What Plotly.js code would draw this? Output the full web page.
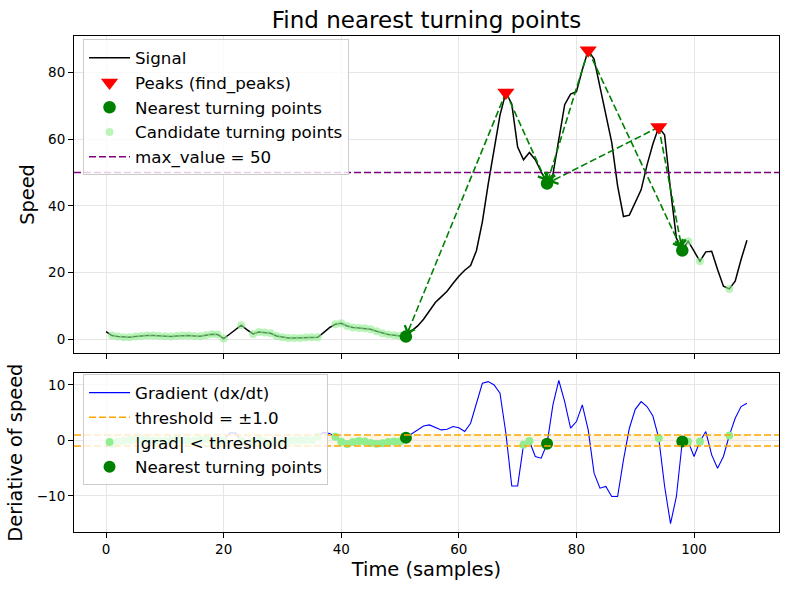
<!DOCTYPE html>
<html><head><meta charset="utf-8">
<script src="https://cdn.plot.ly/plotly-3.0.1.min.js"></script>
<style>html,body{margin:0;padding:0;background:#fff}</style>
</head><body><div id="chart" style="width:790px;height:590px"></div>
<script>
// ---- data ----
const signal = [
  2.3, 1.1, 0.8, 0.6, 0.6, 0.8, 1.0, 1.1, 1.1, 1.0,
  0.9, 0.8, 1.0, 1.1, 1.1, 1.0, 0.9, 1.2, 1.5, 1.4,
  0.2, 1.5, 2.9, 4.2, 2.8, 1.6, 2.2, 2.0, 1.8, 1.0,
  0.6, 0.4, 0.4, 0.4, 0.5, 0.6, 0.6, 2.0, 3.5, 4.5,
  4.8, 4.0, 3.5, 3.4, 3.3, 3.0, 2.4, 1.8, 1.4, 1.2,
  1.0, 0.8, 2.5, 4.0, 6.0, 8.5, 11.0, 12.7, 14.4, 16.7,
  18.9, 20.7, 22.1, 26.6, 35.2, 46.6, 56.6, 67.2, 74.0, 70.5,
  57.6, 53.8, 56.0, 53.8, 50.2, 46.7, 49.4, 59.6, 70.3, 73.5,
  74.2, 80.8, 86.6, 84.0, 75.5, 67.5, 59.0, 46.0, 36.8, 37.2,
  40.8, 44.8, 52.2, 58.5, 63.6, 61.2, 44.8, 30.3, 26.6, 29.4,
  26.4, 23.4, 26.2, 26.4, 20.9, 15.9, 15.1, 17.4, 23.9, 29.7
];
const gradient = [
  -1.2, -0.75, -0.25, -0.1, 0.1, 0.2, 0.15, 0.05, -0.05, -0.1,
  -0.1, 0.05, 0.15, 0.05, -0.05, -0.1, 0.1, 0.3, 0.1, -0.65,
  0.05, 1.35, 1.35, -0.05, -1.3, -0.3, 0.2, -0.2, -0.5, -0.6,
  -0.3, -0.1, 0.0, 0.05, 0.1, 0.05, 0.7, 1.45, 1.25, 0.65,
  -0.25, -0.65, -0.3, -0.1, -0.2, -0.45, -0.6, -0.5, -0.3, -0.2,
  -0.2, 0.5, 1.3, 2.0, 2.6, 2.8, 2.4, 1.9, 2.0, 2.5,
  2.3, 1.6, 3.1, 6.7, 10.3, 10.6, 10.0, 8.5, 1.3, -8.2,
  -8.2, -0.8, -0.1, -2.9, -3.2, -0.6, 6.4, 10.8, 7.0, 2.2,
  3.4, 6.4, 1.9, -5.9, -8.6, -8.3, -10.1, -10.1, -3.5, 2.2,
  5.6, 7.0, 6.1, 4.4, 0.4, -8.3, -15.0, -10.1, -0.2, -0.2,
  -2.9, -0.2, 1.6, -2.6, -5.0, -2.9, 0.9, 4.0, 6.1, 6.7
];
const peakIdx = [68, 82, 94];
const turnIdx = [51, 75, 98];
const threshold = 1.0;
const maxValue = 50;
const xTickVals = [0, 20, 40, 60, 80, 100];
const yTopTickVals = [0, 20, 40, 60, 80];
const yBotTickVals = [-10, 0, 10];

// ---- derived ----
const time = signal.map((_, i) => i);
const candIdx = time.filter(i => Math.abs(gradient[i]) < threshold);
const candTop = candIdx.filter(i => signal[i] < maxValue);

const FONT = 'DejaVu Sans, Liberation Sans, sans-serif';
const xRange = [-5.45, 114.45];
const yTopRange = [-4.1, 90.9];
const yBotRange = [-16.5, 12.1];
const W = 790, H = 590, mL = 74, mR = 11, mT = 36, mB = 58;
const plotW = W - mL - mR, plotH = H - mT - mB;
const topDomain = [0.361, 1], botDomain = [0, 0.32];

// arrow pairs: each peak to nearest turning point on each side
const pairs = [];
peakIdx.forEach(p => {
  const left = turnIdx.filter(t => t < p);
  const right = turnIdx.filter(t => t > p);
  if (left.length) pairs.push([p, left[left.length - 1]]);
  if (right.length) pairs.push([p, right[0]]);
});
const arrX = [], arrY = [];
pairs.forEach(([p, t]) => { arrX.push(p, t, null); arrY.push(signal[p], signal[t], null); });

const pxPerX = plotW / (xRange[1] - xRange[0]);
const pxPerY = plotH * (topDomain[1] - topDomain[0]) / (yTopRange[1] - yTopRange[0]);
const annotations = pairs.map(([p, t]) => {
  const dx = (t - p) * pxPerX, dy = -(signal[t] - signal[p]) * pxPerY;
  const L = Math.hypot(dx, dy), ux = dx / L, uy = dy / L, len = 11;
  return {x: t, y: signal[t], xref: 'x', yref: 'y', ax: -ux * len, ay: -uy * len,
    showarrow: true, arrowhead: 4, arrowsize: 1.5, arrowwidth: 1.4, arrowcolor: 'green',
    standoff: 3, text: ''};
});

const dashPat = '7px,3px';
const traces = [
  {x: time, y: signal, type: 'scatter', mode: 'lines', name: 'Signal',
   line: {color: 'black', width: 1.5}, xaxis: 'x', yaxis: 'y', legend: 'legend', legendrank: 1},
  {x: arrX, y: arrY, type: 'scatter', mode: 'lines', showlegend: false, hoverinfo: 'skip',
   line: {color: 'green', width: 1.6, dash: dashPat}, xaxis: 'x', yaxis: 'y'},
  {x: candTop, y: candTop.map(i => signal[i]), type: 'scatter', mode: 'markers',
   name: 'Candidate turning points', marker: {color: 'rgba(144,238,144,0.6)', size: 8},
   xaxis: 'x', yaxis: 'y', legend: 'legend', legendrank: 4},
  {x: turnIdx, y: turnIdx.map(i => signal[i]), type: 'scatter', mode: 'markers',
   name: 'Nearest turning points', marker: {color: 'green', size: 12.5},
   xaxis: 'x', yaxis: 'y', legend: 'legend', legendrank: 3},
  {x: peakIdx, y: peakIdx.map(i => signal[i]), type: 'scatter', mode: 'markers',
   name: 'Peaks (find_peaks)', marker: {color: 'red', size: 15, symbol: 'triangle-down'},
   xaxis: 'x', yaxis: 'y', legend: 'legend', legendrank: 2},
  {x: [null], y: [null], type: 'scatter', mode: 'lines', name: 'max_value = ' + maxValue,
   line: {color: 'purple', width: 1.5, dash: dashPat}, xaxis: 'x', yaxis: 'y',
   legend: 'legend', legendrank: 5},
  // bottom panel
  {x: time, y: gradient, type: 'scatter', mode: 'lines', name: 'Gradient (dx/dt)',
   line: {color: 'blue', width: 1.1}, xaxis: 'x2', yaxis: 'y2', legend: 'legend2', legendrank: 1},
  {x: [null], y: [null], type: 'scatter', mode: 'lines', name: 'threshold = ±' + threshold.toFixed(1),
   line: {color: 'orange', width: 1.5, dash: dashPat}, xaxis: 'x2', yaxis: 'y2',
   legend: 'legend2', legendrank: 2},
  {x: candIdx, y: candIdx.map(i => gradient[i]), type: 'scatter', mode: 'markers',
   name: '|grad| < threshold', marker: {color: 'lightgreen', size: 8},
   xaxis: 'x2', yaxis: 'y2', legend: 'legend2', legendrank: 3},
  {x: turnIdx, y: turnIdx.map(i => gradient[i]), type: 'scatter', mode: 'markers',
   name: 'Nearest turning points', marker: {color: 'green', size: 12},
   xaxis: 'x2', yaxis: 'y2', legend: 'legend2', legendrank: 4}
];

const axisCommon = {
  showline: true, mirror: true, linecolor: 'black', linewidth: 1,
  ticks: 'outside', ticklen: 5, tickwidth: 1, tickcolor: 'black',
  showgrid: true, gridcolor: '#e6e6e6', gridwidth: 1, zeroline: false,
  tickfont: {family: FONT, size: 13.5, color: 'black'}
};
const legendCommon = {
  bgcolor: 'rgba(255,255,255,0.8)', bordercolor: '#cccccc', borderwidth: 1,
  font: {family: FONT, size: 16.7, color: 'black'}, xanchor: 'left', yanchor: 'top',
  tracegroupgap: 0, itemwidth: 41
};

const layout = {
  width: W, height: H,
  margin: {l: mL, r: mR, t: mT, b: mB},
  paper_bgcolor: 'white', plot_bgcolor: 'white',
  font: {family: FONT, color: 'black'},
  title: {text: 'Find nearest turning points', font: {family: FONT, size: 23, color: 'black'},
    x: (mL + plotW / 2) / W, xref: 'container', xanchor: 'center',
    y: 1 - 20 / H, yref: 'container', yanchor: 'middle'},
  xaxis: Object.assign({}, axisCommon, {domain: [0, 1], range: xRange, anchor: 'y',
    tickvals: xTickVals, showticklabels: false}),
  yaxis: Object.assign({}, axisCommon, {domain: topDomain, range: yTopRange, anchor: 'x',
    tickvals: yTopTickVals,
    title: {text: 'Speed', font: {family: FONT, size: 19.4, color: 'black'}, standoff: 8}}),
  xaxis2: Object.assign({}, axisCommon, {domain: [0, 1], range: xRange, anchor: 'y2',
    tickvals: xTickVals,
    title: {text: 'Time (samples)', font: {family: FONT, size: 19.4, color: 'black'}, standoff: 6}}),
  yaxis2: Object.assign({}, axisCommon, {domain: botDomain, range: yBotRange, anchor: 'x2',
    tickvals: yBotTickVals,
    title: {text: 'Deriative of speed', font: {family: FONT, size: 19.4, color: 'black'}, standoff: 8}}),
  legend: Object.assign({}, legendCommon, {x: 0.0128, y: 0.993, xref: 'paper', yref: 'paper'}),
  legend2: Object.assign({}, legendCommon, {x: 0.0128, y: 0.318, xref: 'paper', yref: 'paper'}),
  shapes: [
    {type: 'line', xref: 'x domain', yref: 'y', x0: 0, x1: 1, y0: maxValue, y1: maxValue,
     line: {color: 'purple', width: 1.5, dash: dashPat}},
    {type: 'rect', xref: 'x2', yref: 'y2', x0: time[0], x1: time[time.length - 1],
     y0: -threshold, y1: threshold, fillcolor: 'rgba(255,165,0,0.1)', line: {width: 0}, layer: 'below'},
    {type: 'line', xref: 'x2 domain', yref: 'y2', x0: 0, x1: 1, y0: threshold, y1: threshold,
     line: {color: 'orange', width: 1.5, dash: dashPat}},
    {type: 'line', xref: 'x2 domain', yref: 'y2', x0: 0, x1: 1, y0: -threshold, y1: -threshold,
     line: {color: 'orange', width: 1.5, dash: dashPat}}
  ],
  annotations: annotations,
  showlegend: true
};

Plotly.newPlot('chart', traces, layout, {displayModeBar: false, staticPlot: true});
</script>
</body></html>
